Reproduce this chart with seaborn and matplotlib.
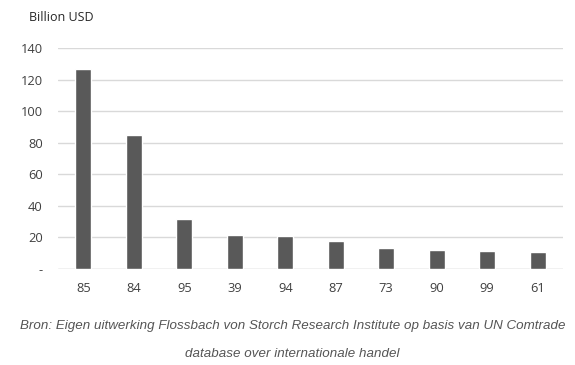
import pandas as pd
import matplotlib.pyplot as plt
import seaborn as sns

codes = ["85", "84", "95", "39", "94", "87", "73", "90", "99", "61"]
values = [127, 85, 32, 21.3, 20.8, 17.7, 13.2, 12.0, 11.4, 10.5]
yticks = [0, 20, 40, 60, 80, 100, 120, 140]
ytick_labels = ["-", "20", "40", "60", "80", "100", "120", "140"]

df = pd.DataFrame({"code": codes, "value": values})

sns.set_style("white")
plt.rcParams["font.family"] = ["Open Sans", "DejaVu Sans"]

fig = plt.figure(figsize=(5.75, 3.65), dpi=100)
ax = fig.add_axes([0.101, 0.263, 0.878, 0.605])

sns.barplot(data=df, x="code", y="value", order=codes, color="#595959",
            width=0.31, saturation=1, ax=ax, zorder=3)

ax.set_ylim(0, 140)
ax.set_yticks(yticks)
ax.set_yticklabels(ytick_labels)
ax.yaxis.grid(True, color="#d9d9d9", linewidth=1, zorder=0)
ax.set_axisbelow(True)
for s in ax.spines.values():
    s.set_visible(False)
ax.axhline(0, color="#d9d9d9", linewidth=1, zorder=1)
ax.tick_params(axis="both", length=0, labelsize=9.3, colors="#404040")
ax.tick_params(axis="y", pad=11)
ax.tick_params(axis="x", pad=9)
ax.set_xlabel("")
ax.set_ylabel("")

fig.text(0.05, 0.953, "Billion USD", fontsize=9, color="#262626", va="center")

fig.text(0.509, 0.107,
         "Bron: Eigen uitwerking Flossbach von Storch Research Institute op basis van UN Comtrade",
         fontsize=9.6, style="italic", color="#555555", ha="center", va="center",
         family=["Liberation Sans"])
fig.text(0.509, 0.030, "database over internationale handel",
         fontsize=9.6, style="italic", color="#555555", ha="center", va="center",
         family=["Liberation Sans"])

fig.savefig("out.png", dpi=100)
